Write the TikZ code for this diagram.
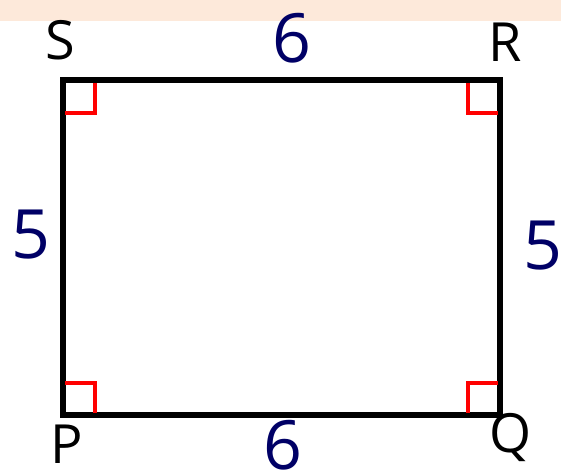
\documentclass[tikz,border=0pt]{standalone}
\usepackage{fontspec}
\setmainfont{Open Sans}
\definecolor{band}{HTML}{FDE9DA}
\definecolor{navy}{HTML}{000066}
\begin{document}
\begin{tikzpicture}[x=1pt,y=-1pt,
  edge/.style={line width=5.5pt,line join=miter},
  rmark/.style={red,line width=4pt},
  vlab/.style={font=\fontsize{54}{54}\selectfont,inner sep=0pt},
  nlab/.style={font=\fontsize{68}{68}\selectfont,text=navy,inner sep=0pt}]
\useasboundingbox (0,0) rectangle (561,475);
\fill[band] (0,0) rectangle (561,21);
\coordinate (P) at (63,415);
\coordinate (Q) at (500,415);
\coordinate (R) at (500,80);
\coordinate (S) at (63,80);
\draw[edge] (P) -- (Q) -- (R) -- (S) -- cycle;
\draw[rmark] (65,113) -- (95,113) -- (95,83);
\draw[rmark] (498,113) -- (468,113) -- (468,83);
\draw[rmark] (65,383) -- (95,383) -- (95,413);
\draw[rmark] (498,383) -- (468,383) -- (468,413);
\node[vlab] (ls) at (60,40) {S};
\node[vlab] (lr) at (505,42) {R};
\node[vlab] (lp) at (67,444) {P};
\node[vlab] (lq) at (511,437) {Q};
\node[nlab] (t6) at (292,38) {6};
\node[nlab] (b6) at (283,445) {6};
\node[nlab] (l5) at (31,235) {5};
\node[nlab] (r5) at (543,246) {5};
\end{tikzpicture}
\end{document}
